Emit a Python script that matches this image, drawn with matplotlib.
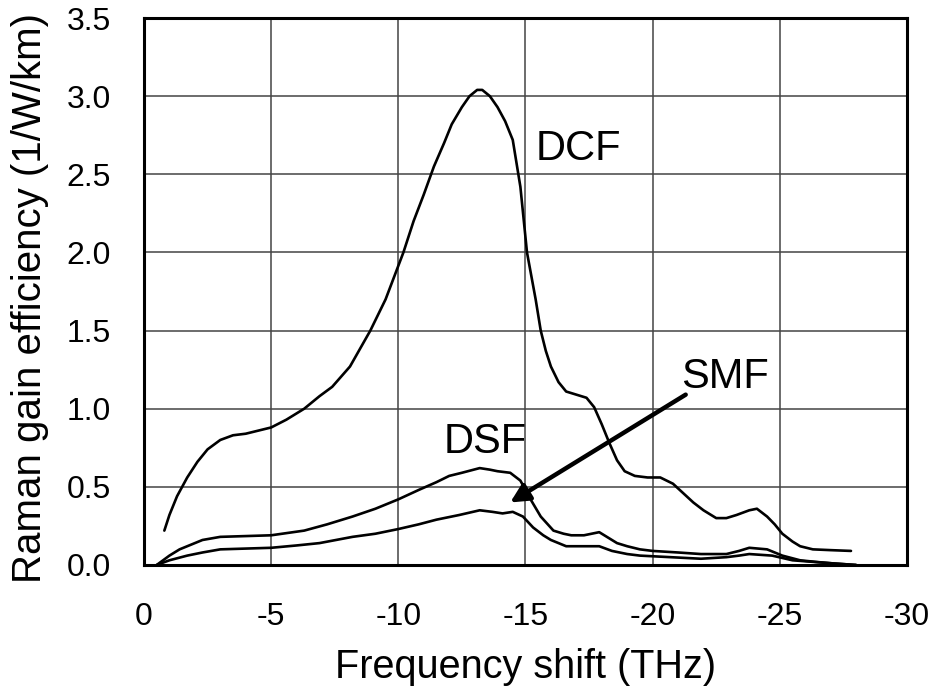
import matplotlib.pyplot as plt
import numpy as np

plt.rcParams['font.family'] = ['Liberation Sans', 'DejaVu Sans']
plt.rcParams['axes.unicode_minus'] = False

# Raman gain efficiency spectra (frequency shift in THz, gain in 1/W/km)
dcf_x = [-0.8, -1.0, -1.3, -1.7, -2.1, -2.5, -3.0, -3.5, -4.0, -4.5, -5.0, -5.6, -6.3, -6.9,
         -7.4, -8.1, -8.9, -9.5, -10.2, -10.6, -11.0, -11.4, -11.8, -12.1, -12.5, -12.8,
         -13.1, -13.3, -13.6, -13.9, -14.2, -14.5, -14.8, -15.06, -15.4, -15.6, -15.8,
         -16.0, -16.3, -16.6, -17.0, -17.4, -17.7, -18.0, -18.3, -18.6, -18.9, -19.3,
         -19.8, -20.3, -20.8, -21.2, -21.6, -22.0, -22.5, -22.9, -23.3, -23.8, -24.1,
         -24.5, -24.8, -25.1, -25.5, -25.8, -26.3, -27.0, -27.8]
dcf_y = [0.22, 0.32, 0.44, 0.56, 0.66, 0.74, 0.80, 0.83, 0.84, 0.86, 0.88, 0.93, 1.00, 1.08,
         1.14, 1.27, 1.50, 1.70, 2.00, 2.20, 2.37, 2.55, 2.70, 2.82, 2.93, 3.00,
         3.04, 3.04, 3.00, 2.93, 2.84, 2.72, 2.42, 2.00, 1.70, 1.50, 1.37,
         1.27, 1.17, 1.11, 1.09, 1.07, 1.01, 0.90, 0.78, 0.67, 0.60, 0.57,
         0.56, 0.56, 0.52, 0.46, 0.40, 0.35, 0.30, 0.30, 0.32, 0.35, 0.36,
         0.31, 0.26, 0.20, 0.15, 0.12, 0.10, 0.095, 0.09]

dsf_x = [-0.5, -1.0, -1.4, -1.7, -2.3, -3.0, -4.0, -5.0, -6.3, -7.2, -8.2, -9.1, -10.0,
         -10.8, -11.5, -12.0, -12.5, -13.2, -13.6, -13.9, -14.4, -14.8, -15.2, -15.6,
         -16.1, -16.5, -16.8, -17.3, -17.9, -18.3, -18.6, -19.0, -19.5, -20.0, -21.0,
         -21.9, -22.9, -23.4, -23.8, -24.5, -25.1, -25.8, -26.4, -27.1, -28.0]
dsf_y = [0.0, 0.06, 0.10, 0.12, 0.16, 0.18, 0.185, 0.19, 0.22, 0.26, 0.31, 0.36, 0.42,
         0.48, 0.53, 0.57, 0.59, 0.62, 0.61, 0.60, 0.59, 0.54, 0.42, 0.31,
         0.22, 0.20, 0.19, 0.19, 0.21, 0.17, 0.14, 0.12, 0.10, 0.09, 0.08,
         0.07, 0.07, 0.09, 0.11, 0.10, 0.06, 0.03, 0.02, 0.01, 0.0]

smf_x = [-0.5, -1.0, -1.7, -2.3, -3.0, -4.0, -5.0, -6.0, -6.9, -8.2, -9.1, -10.0, -10.8,
         -11.5, -12.4, -13.2, -13.7, -14.1, -14.5, -14.9, -15.3, -15.7, -16.0, -16.6,
         -17.3, -17.9, -18.4, -19.0, -19.5, -20.7, -21.9, -22.9, -23.4, -23.8, -24.7,
         -25.5, -26.3, -27.1, -28.0]
smf_y = [0.0, 0.03, 0.06, 0.08, 0.10, 0.105, 0.11, 0.125, 0.14, 0.18, 0.20, 0.23, 0.26,
         0.29, 0.32, 0.35, 0.34, 0.33, 0.34, 0.31, 0.24, 0.19, 0.16, 0.12,
         0.12, 0.12, 0.09, 0.07, 0.06, 0.05, 0.04, 0.05, 0.06, 0.07, 0.06,
         0.03, 0.02, 0.01, 0.0]

x_ticks = [0, -5, -10, -15, -20, -25, -30]
y_ticks = [0.0, 0.5, 1.0, 1.5, 2.0, 2.5, 3.0, 3.5]

fig = plt.figure(figsize=(9.35, 6.88), dpi=100)
ax = fig.add_axes([0.154, 0.1788, 0.816, 0.795])

for xs, ys in [(dcf_x, dcf_y), (dsf_x, dsf_y), (smf_x, smf_y)]:
    ax.plot(xs, ys, color='black', lw=1.9, solid_capstyle='round',
            solid_joinstyle='round', zorder=3)

ax.set_xlim(0, -30)
ax.set_ylim(0, 3.5)
ax.set_xticks(x_ticks)
ax.set_xticklabels([str(t) for t in x_ticks])
ax.set_yticks(y_ticks)
ax.set_yticklabels([f'{t:.1f}' for t in y_ticks])
ax.tick_params(length=0, labelsize=23)
ax.tick_params(axis='x', pad=27)
ax.tick_params(axis='y', pad=24)
ax.grid(True, color='#444444', lw=1.1)
for sp in ax.spines.values():
    sp.set_linewidth(2.2)

ax.set_xlabel('Frequency shift (THz)', fontsize=28.5, labelpad=11)
ax.set_ylabel('Raman gain efficiency (1/W/km)', fontsize=29)
ax.yaxis.set_label_coords(-0.124, 0.488)

# curve labels
ax.text(-15.4, 2.66, 'DCF', fontsize=30, va='center', ha='left')
ax.text(-11.8, 0.79, 'DSF', fontsize=30, va='center', ha='left')
ax.text(-21.1, 1.20, 'SMF', fontsize=30, va='center', ha='left')
ax.annotate('', xy=(-14.4, 0.40), xytext=(-21.3, 1.09),
            arrowprops=dict(arrowstyle='-|>', lw=3.2, color='black',
                            mutation_scale=28, shrinkA=0, shrinkB=0), zorder=4)

fig.savefig('out.png', dpi=100)
